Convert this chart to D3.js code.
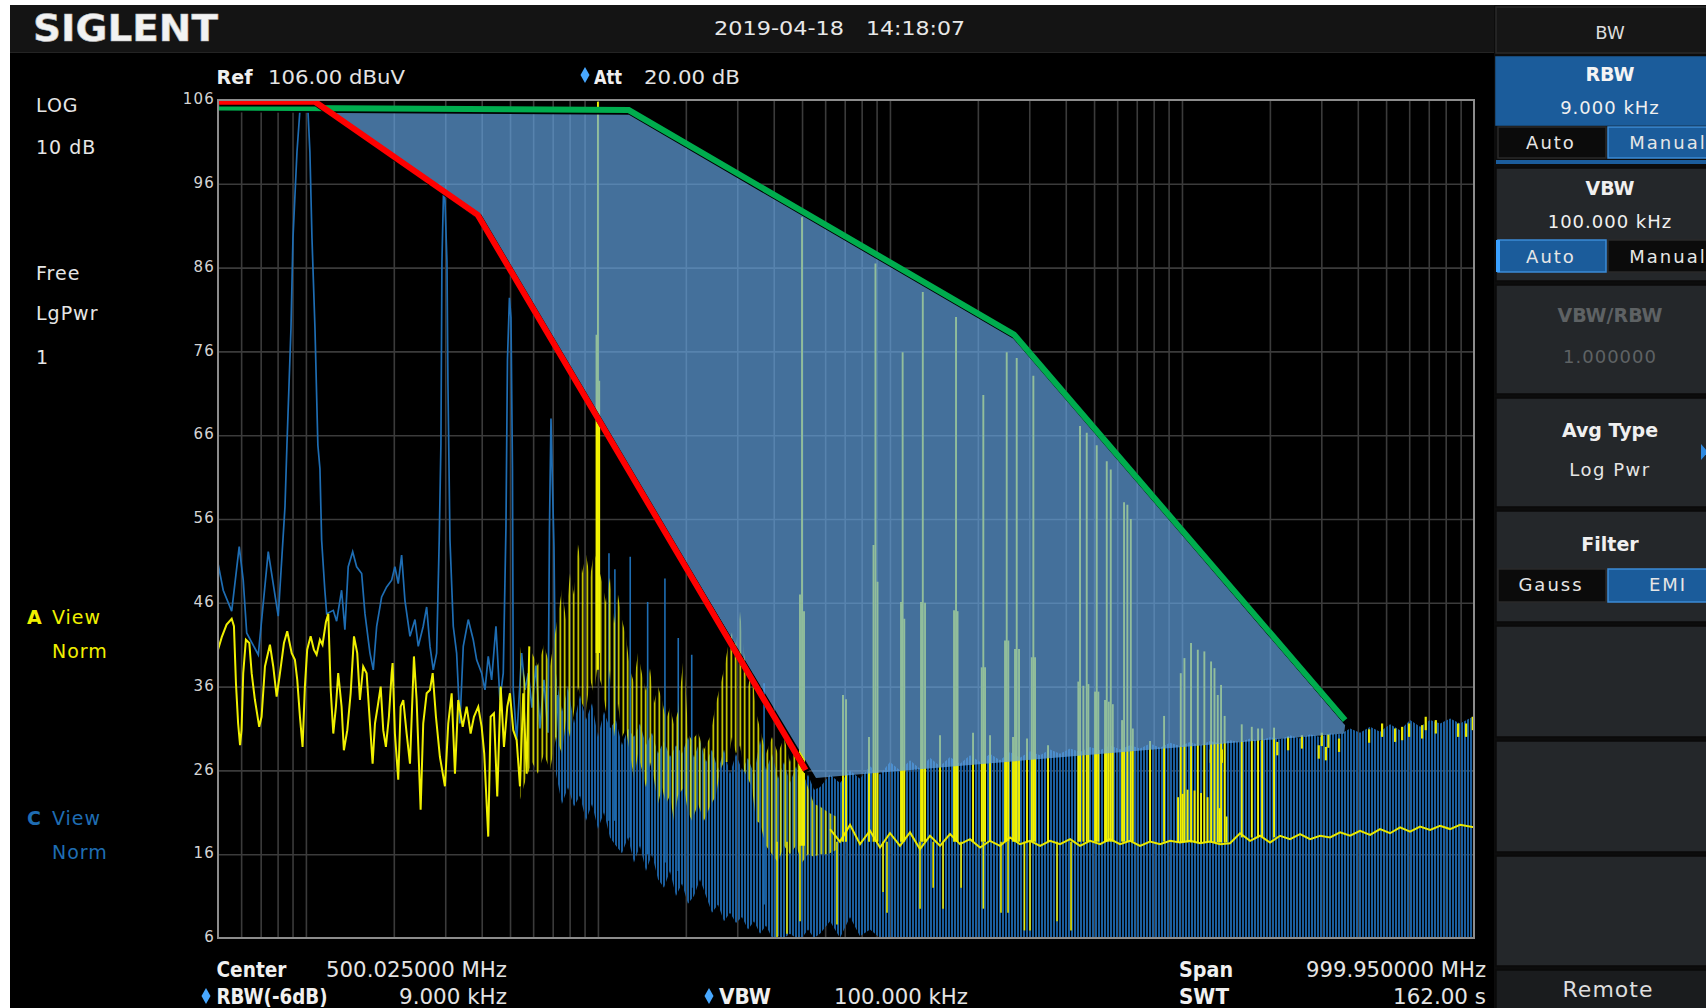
<!DOCTYPE html>
<html>
<head>
<meta charset="utf-8">
<script src="https://cdn.jsdelivr.net/npm/d3@7"></script>
<style>
html,body{margin:0;padding:0;background:#fff;overflow:hidden;}
svg{display:block;}
text{font-family:"DejaVu Sans",Verdana,sans-serif;}
</style>
</head>
<body>
<svg id="scr" width="1706" height="1008"></svg>
<script>
// ---------------- Sweep settings ----------------
const freqStartMHz = 0.05;
const freqStopMHz = 1000;
const refLevel = 106;      // dBuV, top of screen
const dbPerDiv = 10;
const yTickLabels = [106, 96, 86, 76, 66, 56, 46, 36, 26, 16, 6];

// ---------------- Trace C (blue), low band line: [MHz, dBuV] ----------------
const traceC = [
  [0.0500,50.7],[0.0521,47.5],[0.0557,45.0],[0.0591,52.7],[0.0610,48.7],[0.0627,42.4],
  [0.0687,39.8],[0.0743,52.1],[0.0804,44.4],[0.0848,57.5],[0.0861,64.8],[0.0889,78.8],
  [0.0903,89.5],[0.0932,99.8],[0.0954,104.8],[0.0985,105.2],[0.1016,104.8],[0.1032,99.8],
  [0.1049,89.5],[0.1074,78.8],[0.1099,64.8],[0.1117,62.0],[0.1132,53.5],[0.1161,47.5],
  [0.1178,44.7],[0.1241,45.1],[0.1274,43.8],[0.1325,47.5],[0.1360,42.8],[0.1396,50.3],
  [0.1446,52.1],[0.1492,50.3],[0.1552,49.5],[0.1593,44.7],[0.1657,40.0],[0.1701,38.0],
  [0.1747,43.2],[0.1817,46.7],[0.1890,47.9],[0.1966,48.7],[0.2017,50.3],[0.2071,48.3],
  [0.2127,51.7],[0.2183,46.3],[0.2272,42.0],[0.2363,44.0],[0.2425,40.8],[0.2522,43.2],
  [0.2591,45.5],[0.2660,40.8],[0.2730,38.0],[0.2803,40.0],[0.2861,53.5],[0.2900,65.0],
  [0.2923,86.7],[0.2958,94.7],[0.2993,94.0],[0.3041,86.7],[0.3065,72.0],[0.3114,53.5],
  [0.3196,43.2],[0.3282,40.0],[0.3369,31.6],[0.3458,40.8],[0.3597,44.0],[0.3741,41.6],
  [0.3843,39.2],[0.3998,37.6],[0.4104,35.6],[0.4211,39.6],[0.4325,36.8],[0.4475,43.2],
  [0.4618,34.4],[0.4740,37.6],[0.4842,55.0],[0.4900,75.0],[0.4977,82.4],[0.5037,80.0],
  [0.5097,62.0],[0.5129,35.6],[0.5269,29.6],[0.5481,40.0],[0.5626,35.6],[0.5774,37.6],
  [0.5945,33.5],[0.6135,38.5],[0.6331,31.0],[0.6534,36.8],[0.6744,30.5],[0.6825,55.0],
  [0.6906,68.0],[0.6988,60.0],[0.7071,52.7],[0.7183,30.0],[0.7297,35.0]
];

// Trace C, dense band above 0.7 MHz: [MHz, upper dBuV, lower dBuV]
const combC = [
  [0.7183,37.6,25.6],[0.7531,33.0,22.0],[0.7896,36.0,24.0],[0.8279,31.6,21.7],[0.8680,35.0,23.0],
  [0.9100,32.0,20.0],[0.9542,34.0,22.0],[1.0003,30.0,19.0],[1.0488,33.0,21.0],[1.0996,31.0,18.0],
  [1.1529,32.0,17.0],[1.2088,29.0,16.1],[1.2673,31.0,18.0],[1.3288,30.0,15.0],[1.3931,31.6,17.0],
  [1.4605,29.0,14.0],[1.5314,30.5,16.0],[1.6056,28.0,13.0],[1.6834,29.5,12.0],[1.7649,27.6,14.0],
  [1.8505,29.0,11.0],[1.9402,28.0,12.5],[2.0341,30.0,10.1],[2.1327,27.5,11.0],[2.2360,29.6,13.0],
  [2.3444,27.0,11.0],[2.4580,28.5,9.0],[2.5771,26.0,10.0],[2.7021,28.5,8.0],[2.8329,25.6,9.0],
  [2.9702,28.0,7.8],[3.1143,26.0,8.5],[3.2650,27.5,7.0],[3.4233,25.5,8.0],[3.5892,29.6,6.5],
  [3.7630,26.0,7.5],[3.9455,28.0,6.0],[4.1365,25.0,6.2],[4.3371,27.0,6.0],[4.5472,24.5,6.5],
  [4.7675,26.5,6.0],[4.9986,24.0,6.0],[5.2406,25.5,7.0],[5.4948,23.7,6.0],[5.7608,24.0,6.5],
  [6.234,25.5,8.0],[6.745,24.5,6.0],[7.298,26.0,8.5],[7.897,25.0,6.2],[8.545,26.5,7.0],
  [9.246,25.5,6],[10.005,27.0,6],[10.826,26.0,6],[11.714,27.2,6],[12.675,26.2,6],
  [13.715,27.5,6],[14.840,26.5,6],[16.058,27.6,6],[17.375,26.8,6],[18.801,27.8,6],
  [20.344,27.0,6],[22.013,28.0,6],[23.819,27.2,6],[25.773,28.2,6],[27.888,27.5,6],
  [30.176,28.3,6],[32.652,27.8,6],[35.331,28.5,6],[38.230,28.0,6],[41.367,28.6,6],
  [44.762,28.2,6],[48.434,28.8,6],[52.408,28.4,6],[56.708,29.0,6],[61.361,28.5,6],
  [66.396,29.0,6],[71.844,28.6,6],[77.739,29.2,6],[84.117,28.7,6],[91.019,29.3,6],
  [98.487,28.9,6],[106.57,29.4,6],[115.31,29.0,6],[124.77,29.5,6],[135.01,29.2,6],
  [146.09,29.6,6],[158.08,29.4,6],[171.05,29.8,6],[185.08,29.5,6],[200.27,30.0,6],
  [216.70,29.7,6],[234.48,30.2,6],[253.72,29.8,6],[274.54,30.3,6],[297.06,30.0,6],
  [321.44,30.4,6],[347.81,30.3,6],[376.35,31.0,6],[407.23,30.5,6],[440.64,31.2,6],
  [476.80,30.6,6],[515.92,31.5,6],[558.25,30.8,6],[604.05,32.0,6],[653.62,31.2,6],
  [707.25,32.0,6],[765.28,31.6,6],[828.07,32.2,6],[896.01,31.6,6],[1000,32.5,6]
];

// Trace C isolated lines in the 1–4 MHz region: [MHz, peak dBuV, foot dBuV]
const spikesC = [
  [1.091,51.9,20],[1.143,50.0,20],[1.290,51.5,18],[1.480,46.1,16],[1.696,48.9,15],
  [1.884,41.8,14],[2.095,39.8,12],[3.706,36.4,10]
];

// ---------------- Trace A (yellow), low band line: [MHz, dBuV] ----------------
const traceA = [
  [0.0500,40.4],[0.0515,41.9],[0.0535,43.4],[0.0557,44.1],[0.0567,43.2],[0.0576,36.4],
  [0.0586,31.6],[0.0595,29.0],[0.0602,30.8],[0.0610,37.6],[0.0623,41.6],[0.0640,41.2],
  [0.0652,37.6],[0.0669,34.4],[0.0692,31.2],[0.0705,32.4],[0.0724,38.4],[0.0753,41.0],
  [0.0773,38.4],[0.0794,34.8],[0.0815,37.6],[0.0841,41.2],[0.0863,42.6],[0.0894,40.0],
  [0.0917,39.2],[0.0934,36.8],[0.0954,32.4],[0.0974,28.8],[0.0992,36.0],[0.1010,40.4],
  [0.1038,42.0],[0.1065,40.4],[0.1088,39.8],[0.1117,41.6],[0.1140,41.0],[0.1171,43.7],
  [0.1193,44.7],[0.1216,35.6],[0.1241,30.4],[0.1267,33.6],[0.1290,37.6],[0.1325,33.6],
  [0.1349,28.4],[0.1386,30.8],[0.1423,35.2],[0.1461,42.0],[0.1499,40.0],[0.1531,34.4],
  [0.1571,38.4],[0.1614,37.6],[0.1657,31.6],[0.1692,26.8],[0.1724,31.6],[0.1761,33.6],
  [0.1803,36.0],[0.1840,30.8],[0.1879,28.8],[0.1924,32.4],[0.1966,37.6],[0.1981,38.8],
  [0.2017,30.4],[0.2071,24.9],[0.2111,33.6],[0.2155,34.4],[0.2213,30.4],[0.2272,26.8],
  [0.2344,39.6],[0.2394,34.4],[0.2471,21.3],[0.2522,31.6],[0.2591,35.2],[0.2660,35.6],
  [0.2717,37.6],[0.2788,32.4],[0.2877,27.6],[0.2993,24.1],[0.3072,31.6],[0.3156,35.2],
  [0.3239,25.6],[0.3324,34.4],[0.3443,31.2],[0.3552,33.6],[0.3665,30.4],[0.3762,32.4],
  [0.3892,33.6],[0.3998,31.2],[0.4080,28.0],[0.4211,18.1],[0.4291,32.4],[0.4405,32.8],
  [0.4521,22.9],[0.4645,36.0],[0.4767,28.8],[0.4894,33.6],[0.4997,35.2],[0.5129,30.8],
  [0.5269,29.6],[0.5408,24.1],[0.5550,35.2],[0.5701,25.6],[0.5820,40.8]
];

// Trace A, dense band 0.54–6.5 MHz: [MHz, upper dBuV, lower dBuV]
const noiseA = [
  [0.5408,40.8,22.5],[0.5669,36.0,25.0],[0.5945,40.0,27.0],[0.6232,38.5,25.6],[0.6534,41.0,28.0],
  [0.6851,38.4,26.0],[0.7183,43.0,30.0],[0.7531,47.6,28.0],[0.7772,44.0,32.0],[0.8021,49.5,30.0],
  [0.8279,47.0,33.0],[0.8544,53.0,36.0],[0.8818,49.5,34.0],[0.9100,51.8,33.0],[0.9392,49.0,37.0],
  [0.9693,52.0,35.0],[0.9924,51.0,38.0],[1.0324,48.5,36.0],[1.0654,46.0,33.0],[1.0996,49.0,38.0],
  [1.1349,43.5,30.0],[1.1712,47.0,34.0],[1.2088,44.0,30.0],[1.2474,42.0,31.0],[1.2874,38.0,28.0],
  [1.3288,36.5,25.0],[1.3713,40.0,28.0],[1.4153,37.5,26.0],[1.4605,35.5,24.0],[1.5074,38.2,27.0],
  [1.5558,34.0,25.0],[1.6056,36.0,22.0],[1.6572,34.4,24.0],[1.7101,32.0,22.0],[1.7649,33.5,23.0],
  [1.8216,31.5,20.0],[1.8799,33.0,23.0],[1.9711,40.0,24.0],[2.0341,30.4,21.0],[2.0994,29.6,20.0],
  [2.2010,30.5,22.0],[2.3078,28.5,20.0],[2.4196,30.0,21.7],[2.5367,34.0,23.0],[2.6181,36.0,26.0],
  [2.7021,38.0,27.0],[2.7886,40.8,27.0],[2.8781,42.5,30.0],[2.9702,41.0,28.0],[3.0655,45.0,29.0],
  [3.1638,40.0,26.0],[3.2650,36.0,25.0],[3.3699,38.0,24.0],[3.4776,33.0,20.0],[3.5892,31.0,19.7],
  [3.7630,28.0,17.0],[3.9455,30.0,16.0],[4.1365,28.0,15.0],[4.3371,30.0,17.0],[4.5472,27.0,16.0],
  [4.7675,29.0,17.0],[4.9986,26.0,15.0],[5.2406,24.0,16.0],[5.4948,22.0,15.7],[5.7608,21.7,16.0],
  [6.1360,21.0,16.0],[6.5352,20.5,16.5]
];

// Trace A noise floor above 6 MHz: [MHz, dBuV]
const baseA = [
  [6.234,19.0],[6.745,17.5],[7.298,19.5],[7.897,17.2],[8.545,18.8],[9.246,16.8],[10.005,18.5],
  [10.826,17.0],[11.714,18.6],[12.675,16.6],[13.715,18.2],[14.840,17.0],[16.058,18.4],[17.375,17.2],
  [18.801,17.8],[20.344,16.8],[22.013,17.6],[23.819,17.0],[25.773,18.0],[27.888,17.2],[30.176,17.6],
  [32.652,17.0],[35.331,17.6],[38.230,17.2],[41.367,17.8],[44.762,17.0],[48.434,17.6],[52.408,17.2],
  [56.708,17.8],[61.361,17.2],[66.396,17.6],[71.844,17.0],[77.739,17.5],[84.117,17.2],[91.019,17.6],
  [98.487,17.4],[106.57,17.6],[115.31,17.3],[124.77,17.5],[135.01,17.2],[146.09,17.3],[158.08,18.5],
  [171.05,17.6],[185.08,18.2],[200.27,17.4],[216.70,18.2],[234.48,17.8],[253.72,18.4],[274.54,17.8],
  [297.06,18.2],[321.44,18.0],[347.81,18.6],[376.35,18.2],[407.23,18.8],[440.64,18.3],[476.80,19.0],
  [515.92,18.5],[558.25,19.2],[604.05,18.7],[653.62,19.3],[707.25,18.9],[765.28,19.4],[828.07,19.0],
  [896.01,19.5],[1000,19.2]
];

// Trace A discrete emissions: [MHz, peak dBuV, foot dBuV]
const spikesA = [
  [0.989,78.0,40],[1.000,105.8,38],[1.010,72.5,40],
  [4.920,47.0,17],[4.999,92.0,17],[5.078,45.0,17],
  [6.906,35.0,17.5],[7.072,34.5,17.5],[8.478,30.0,17.5],
  [8.784,52.9,17.5],[8.920,86.5,17.5],[9.066,48.5,17.5],
  [10.913,46.1,17.5],[11.052,75.9,17.5],[11.197,44.1,17.5],
  [12.777,46.1,17.5],[12.955,83.1,17.5],[13.186,46.0,17.5],[14.840,30.2,17.5],
  [16.575,45.1,17.5],[16.837,80.1,17.5],[17.040,45.0,17.5],[19.254,30.5,17.5],
  [20.620,38.3,17.5],[20.880,70.8,17.5],[21.165,38.3,17.5],[22.013,30.2,17.5],
  [24.780,41.5,17.5],[25.110,75.9,17.5],[25.430,41.5,17.5],[26.390,30.0,17.5],
  [26.810,40.5,17.5],[27.170,75.2,17.5],[27.670,40.5,17.5],[29.470,29.8,17.5],
  [30.590,39.5,17.5],[30.980,73.1,17.5],[31.390,39.5,17.5],[34.780,29.0,17.5],
  [44.170,36.6,17.5],[44.760,67.1,17.5],[45.950,36.1,17.5],[47.190,66.3,17.5],[47.800,36.3,17.5],
  [50.390,35.4,17.5],[51.060,64.8,17.5],[51.720,35.4,17.5],
  [54.520,34.4,17.5],[55.260,62.9,17.5],[56.140,34.2,17.5],[57.030,61.9,17.5],[57.940,33.9,17.5],
  [62.350,32.0,17.5],[63.340,58.0,17.5],[65.010,57.7,17.5],[66.790,56.0,17.5],[67.860,31.0,17.5],
  [77.740,29.5,17.5],[86.840,32.5,17.5],
  [96.97,22.8,17.4],[99.05,37.6,17.4],[100.5,23.2,17.4],[101.95,39.4,17.4],[104.5,23.7,17.4],
  [107.4,41.2,17.4],[110.4,23.6,17.4],[113.3,40.4,17.4],[116.25,23.3,17.4],[119.3,40.2,17.4],
  [122.4,22.8,17.4],[125.8,39.0,17.4],[129.2,38.2,17.4],[132.6,35.0,17.4],[134.5,21.5,17.4],
  [136.1,36.2,17.4],[140.0,32.5,17.4],[142.1,20.5,17.4],
  [160.2,31.5,18],[173.4,31.2,18],[182.2,31.0,18],[188.1,31.0,18],[206.7,31.1,18]
];

// Trace A short excursions above the floor on the upper band: [MHz, dBuV]
const ticksA = [
  [125.5,28.5],[137.0,28.5],[212.0,29.4],[230.9,30.0],[257.4,30.2],[294.0,29.0],[301.2,30.5],
  [311.0,28.8],[317.2,30.3],[345.0,29.8],[437.3,30.9],[484.5,31.6],[536.8,31.0],[567.4,31.2],
  [599.5,31.6],[664.3,31.4],[683.4,32.4],[739.9,32.0],[882.3,31.6],[939.8,31.6],[990.5,32.4]
];

// Trace A drop-outs below the floor: [MHz, lowest dBuV]
const dipsA = [
  [4.104,5.8],[4.440,6.5],[4.920,8.0],[6.585,7.6],[9.47,11.5],[9.77,9.0],[12.675,9.5],
  [14.06,12.0],[15.20,9.5],[17.52,12.0],[20.88,9.5],[24.0,9.0],[25.37,9.0],[28.88,6.9],
  [30.18,6.9],[37.34,8.0],[41.69,6.9]
];

// ---------------- Limit lines and margin zone: [MHz, dBuV] ----------------
const limitRed = [[0.05,105.8],[0.1074,105.8],[0.3873,92.3],[5.142,26.05]];
const limitGreen = [[0.05,105.1],[1.275,104.8],[26.60,78.0],[361.9,32.0]];
const marginZone = [[0.1171,104.8],[1.275,104.5],[26.60,77.7],[362.0,31.4],[359.1,30.4],[5.582,25.1],[0.3945,91.6]];

// ---------------- Layout ----------------
const W = 1706, H = 1008;
const plot = {left: 218, right: 1474, top: 100, bottom: 938};

const x = d3.scaleLog().domain([freqStartMHz, freqStopMHz]).range([plot.left, plot.right]);
const y = d3.scaleLinear().domain([refLevel - 10 * dbPerDiv, refLevel]).range([plot.bottom, plot.top]);

const svg = d3.select('#scr');
const defs = svg.append('defs');

// screen
svg.append('rect').attr('width', W).attr('height', H).attr('fill', '#ffffff');
svg.append('rect').attr('x', 10).attr('y', 5).attr('width', W - 10).attr('height', H - 5).attr('fill', '#000');
svg.append('rect').attr('x', 10).attr('y', 5).attr('width', 1484).attr('height', 47).attr('fill', '#141414');
svg.append('line').attr('x1', 10).attr('x2', 1494).attr('y1', 52.5).attr('y2', 52.5).attr('stroke', '#242424');

function txt(s, tx, ty, o = {}) {
  const t = svg.append('text').attr('x', tx).attr('y', ty).text(s)
    .attr('font-size', o.size || 19)
    .attr('fill', o.fill || '#e4e4e4')
    .attr('text-anchor', o.anchor || 'start');
  if (o.bold) t.attr('font-weight', 'bold');
  if (o.family) t.attr('font-family', o.family);
  if (o.len) t.attr('textLength', o.len).attr('lengthAdjust', 'spacingAndGlyphs');
  if (o.ls) t.attr('letter-spacing', o.ls);
  return t;
}
const narrow = '"Liberation Sans Narrow","DejaVu Sans Condensed",Roboto,"Liberation Sans",sans-serif';

// header
txt('SIGLENT', 33, 41, {size: 38, bold: true, fill: '#f2f2f2', len: 185, family: '"DejaVu Sans",sans-serif'})
  .attr('stroke', '#bdbdbd').attr('stroke-width', 0.6);
txt('2019-04-18', 714, 35, {size: 20, len: 130, family: narrow, fill: '#e8e8e8'});
txt('14:18:07', 866, 35, {size: 20, len: 99, family: narrow, fill: '#e8e8e8'});

// reference / attenuation line
txt('Ref', 216.5, 84, {size: 20, bold: true, len: 36, family: narrow, fill: '#f0f0f0'});
txt('106.00 dBuV', 268, 84, {size: 20, len: 137, family: narrow});
function diamond(cx, cy) {
  svg.append('path').attr('d', `M${cx},${cy - 8}L${cx + 4.5},${cy}L${cx},${cy + 8}L${cx - 4.5},${cy}Z`)
    .attr('fill', '#48a8ff');
}
diamond(585, 75);
txt('Att', 594, 84, {size: 20, bold: true, len: 28, family: narrow, fill: '#f0f0f0'});
txt('20.00 dB', 644, 84, {size: 20, len: 96, family: narrow});

// left status column
const statusWhite = [['LOG', 112], ['10 dB', 154], ['Free', 280], ['LgPwr', 320], ['1', 364]];
statusWhite.forEach(([s, yy]) => txt(s, 36, yy, {size: 19, ls: 1, fill: '#e6e6e6'}));
txt('A', 27, 624, {size: 19, bold: true, fill: '#f0f000'});
txt('View', 52, 624, {size: 19, ls: 1, fill: '#f0f000'});
txt('Norm', 52, 658, {size: 19, ls: 1, fill: '#f0f000'});
txt('C', 27, 825, {size: 19, bold: true, fill: '#1f6db3'});
txt('View', 52, 825, {size: 19, ls: 1, fill: '#1f6db3'});
txt('Norm', 52, 859, {size: 19, ls: 1, fill: '#1f6db3'});

// ---------------- Plot ----------------
defs.append('clipPath').attr('id', 'plotClip').append('rect')
  .attr('x', plot.left).attr('y', plot.top).attr('width', plot.right - plot.left).attr('height', plot.bottom - plot.top);

const stripeC = defs.append('pattern').attr('id', 'stripeC').attr('patternUnits', 'userSpaceOnUse')
  .attr('width', 3).attr('height', 10);
stripeC.append('rect').attr('x', 0).attr('width', 2).attr('height', 10).attr('fill', '#1b5e9e');
const stripeA = defs.append('pattern').attr('id', 'stripeA').attr('patternUnits', 'userSpaceOnUse')
  .attr('width', 4.5).attr('height', 10);
stripeA.append('rect').attr('x', 1.5).attr('width', 1.5).attr('height', 10).attr('fill', '#eeee00');

const g = svg.append('g').attr('clip-path', 'url(#plotClip)');

// grid
const gridFreqs = [];
[0.01, 0.1, 1, 10, 100].forEach(dec => {
  for (let m = 1; m <= 9; m++) {
    const f = +(m * dec).toPrecision(3);
    if (f > freqStartMHz && f < freqStopMHz) gridFreqs.push(f);
  }
});
const vGrid = g.append('g').attr('transform', `translate(0,${plot.bottom})`)
  .call(d3.axisBottom(x).tickValues(gridFreqs).tickSize(-(plot.bottom - plot.top)).tickFormat(''));
const hGrid = g.append('g').attr('transform', `translate(${plot.left},0)`)
  .call(d3.axisLeft(y).tickValues(yTickLabels.slice(1, -1)).tickSize(-(plot.right - plot.left)).tickFormat(''));
[vGrid, hGrid].forEach(a => {
  a.select('.domain').remove();
  a.selectAll('line').attr('stroke', '#3b3b3b').attr('stroke-width', 1.6);
});

// trace C: dense band, line, spikes
const bandArea = d3.area().x(d => x(d[0])).y0(d => y(d[2])).y1(d => y(d[1]));
g.append('path').datum(combC).attr('d', bandArea).attr('fill', 'url(#stripeC)');
g.append('path').datum(traceC)
  .attr('d', d3.line().x(d => x(d[0])).y(d => y(d[1])))
  .attr('fill', 'none').attr('stroke', '#1e6db3').attr('stroke-width', 1.7);
g.selectAll('.spC').data(spikesC).join('line').attr('class', 'spC')
  .attr('x1', d => x(d[0])).attr('x2', d => x(d[0]))
  .attr('y1', d => y(d[2])).attr('y2', d => y(d[1]))
  .attr('stroke', '#1e6db3').attr('stroke-width', 1.6);

// trace A: dense band, line, floor, discrete lines
g.append('path').datum(noiseA).attr('d', bandArea).attr('fill', 'url(#stripeA)');
g.append('path').datum(traceA)
  .attr('d', d3.line().x(d => x(d[0])).y(d => y(d[1])))
  .attr('fill', 'none').attr('stroke', '#f0f000').attr('stroke-width', 2);
g.append('path').datum(baseA)
  .attr('d', d3.line().x(d => x(d[0])).y(d => y(d[1])))
  .attr('fill', 'none').attr('stroke', '#e8e800').attr('stroke-width', 2);
g.selectAll('.spA').data(spikesA).join('line').attr('class', 'spA')
  .attr('x1', d => x(d[0])).attr('x2', d => x(d[0]))
  .attr('y1', d => y(d[2])).attr('y2', d => y(d[1]))
  .attr('stroke', '#f2f200').attr('stroke-width', 1.9);
g.selectAll('.dpA').data(dipsA).join('line').attr('class', 'dpA')
  .attr('x1', d => x(d[0])).attr('x2', d => x(d[0]))
  .attr('y1', d => y(17.5)).attr('y2', d => y(d[1]))
  .attr('stroke', '#e8e800').attr('stroke-width', 1.6);
g.selectAll('.tkA').data(ticksA).join('line').attr('class', 'tkA')
  .attr('x1', d => x(d[0])).attr('x2', d => x(d[0]))
  .attr('y1', d => y(d[1] - 1.6)).attr('y2', d => y(d[1]))
  .attr('stroke', '#e8e800').attr('stroke-width', 2.2);

// margin zone between the two limit lines
g.append('path').datum(marginZone)
  .attr('d', d3.line().x(d => x(d[0])).y(d => y(d[1])).curve(d3.curveLinearClosed))
  .attr('fill', 'rgb(100,165,229)').attr('fill-opacity', 0.68);

// limit lines with their dark edge
const limLine = d3.line().x(d => x(d[0])).y(d => y(d[1]));
[[limitGreen, '#00ad4e'], [limitRed, '#ff0000']].forEach(([pts, col]) => {
  g.append('path').datum(pts).attr('d', limLine).attr('transform', 'translate(1.3,1.8)')
    .attr('fill', 'none').attr('stroke', '#000').attr('stroke-width', 6);
  g.append('path').datum(pts).attr('d', limLine)
    .attr('fill', 'none').attr('stroke', col).attr('stroke-width', 6).attr('stroke-linejoin', 'miter');
});

// frame
svg.append('rect').attr('x', plot.left).attr('y', plot.top)
  .attr('width', plot.right - plot.left).attr('height', plot.bottom - plot.top)
  .attr('fill', 'none').attr('stroke', '#8c8c8c').attr('stroke-width', 2);

// amplitude labels
const yAx = svg.append('g').attr('transform', `translate(${plot.left - 3},0)`)
  .call(d3.axisLeft(y).tickValues(yTickLabels).tickSize(0).tickPadding(0).tickFormat(d3.format('d')));
yAx.select('.domain').remove();
yAx.selectAll('text').attr('font-size', 15).attr('fill', '#d4d4d4').attr('letter-spacing', 1.2)
  .attr('font-family', '"DejaVu Sans",Verdana,sans-serif').attr('dy', '0.25em');

// bottom annotation
txt('Center', 216.5, 977, {size: 21, bold: true, len: 70, family: narrow, fill: '#f0f0f0'});
txt('500.025000 MHz', 326, 977, {size: 21, len: 181, family: narrow});
txt('Span', 1179, 977, {size: 21, bold: true, len: 54, family: narrow, fill: '#f0f0f0'});
txt('999.950000 MHz', 1486, 977, {size: 21, len: 180, family: narrow, anchor: 'end'});
diamond(206, 996);
txt('RBW(-6dB)', 216.5, 1004, {size: 21, bold: true, len: 111, family: narrow, fill: '#f0f0f0'});
txt('9.000 kHz', 399, 1004, {size: 21, len: 108, family: narrow});
diamond(709, 996);
txt('VBW', 719, 1004, {size: 21, bold: true, len: 52, family: narrow, fill: '#f0f0f0'});
txt('100.000 kHz', 834, 1004, {size: 21, len: 134, family: narrow});
txt('SWT', 1179, 1004, {size: 21, bold: true, len: 50, family: narrow, fill: '#f0f0f0'});
txt('162.00 s', 1486, 1004, {size: 21, len: 93, family: narrow, anchor: 'end'});

// ---------------- Soft-key menu ----------------
const mx = 1496, mcx = 1610;
function box(x0, y0, w, h, fill, stroke) {
  svg.append('rect').attr('x', x0).attr('y', y0).attr('width', w).attr('height', h)
    .attr('fill', fill).attr('stroke', stroke || '#0a0a0a').attr('stroke-width', 1.5);
}
svg.append('rect').attr('x', mx - 2).attr('y', 5).attr('width', W - mx + 2).attr('height', H - 5).attr('fill', '#0c0c0c');
box(mx, 7, 230, 46, '#161616', '#2a2a2a');
txt('BW', mcx, 39, {size: 18, anchor: 'middle', fill: '#dcdcdc'});

box(mx, 57, 230, 68, '#1b5c9b', '#1b5c9b');
txt('RBW', mcx, 81, {size: 19, bold: true, anchor: 'middle', fill: '#f4f4f4'});
txt('9.000 kHz', mcx, 114, {size: 18, anchor: 'middle', ls: 1, fill: '#f0f0f0'});
box(mx + 2, 127, 108, 31, '#0b0b0b', '#2a2a2a');
box(mx + 112, 127, 118, 31, '#1b5c9b', '#3b8bd6');
txt('Auto', 1551, 149, {size: 18, anchor: 'middle', ls: 2, fill: '#e6e6e6'});
txt('Manual', 1668, 149, {size: 18, anchor: 'middle', ls: 2, fill: '#e6e6e6'});
svg.append('rect').attr('x', mx).attr('y', 160).attr('width', 230).attr('height', 4).attr('fill', '#1b5c9b');

box(mx, 168, 230, 113, '#24272a');
txt('VBW', mcx, 195, {size: 19, bold: true, anchor: 'middle', fill: '#f0f0f0'});
txt('100.000 kHz', mcx, 228, {size: 18, anchor: 'middle', ls: 1, fill: '#f0f0f0'});
box(mx + 2, 240, 108, 32, '#1b5c9b', '#3b8bd6');
svg.append('rect').attr('x', mx).attr('y', 240).attr('width', 4).attr('height', 32).attr('fill', '#3aa0ff');
box(mx + 112, 240, 118, 32, '#0b0b0b', '#2a2a2a');
txt('Auto', 1551, 263, {size: 18, anchor: 'middle', ls: 2, fill: '#e6e6e6'});
txt('Manual', 1668, 263, {size: 18, anchor: 'middle', ls: 2, fill: '#e6e6e6'});

box(mx, 285, 230, 109, '#24272a');
txt('VBW/RBW', mcx, 322, {size: 19, bold: true, anchor: 'middle', fill: '#5e6264'});
txt('1.000000', mcx, 363, {size: 18, anchor: 'middle', ls: 1, fill: '#5e6264'});

box(mx, 398, 230, 109, '#24272a');
txt('Avg Type', mcx, 437, {size: 19, bold: true, anchor: 'middle', fill: '#f0f0f0'});
txt('Log Pwr', mcx, 476, {size: 18, anchor: 'middle', ls: 1.5, fill: '#e6e6e6'});
svg.append('path').attr('d', 'M1701,444L1708,452L1701,460Z').attr('fill', '#2f8ae0');

box(mx, 511, 230, 111, '#24272a');
txt('Filter', mcx, 551, {size: 19, bold: true, anchor: 'middle', fill: '#f0f0f0'});
box(mx + 2, 569, 108, 33, '#0b0b0b', '#2a2a2a');
box(mx + 112, 569, 118, 33, '#1b5c9b', '#3b8bd6');
txt('Gauss', 1551, 591, {size: 18, anchor: 'middle', ls: 2, fill: '#e6e6e6'});
txt('EMI', 1668, 591, {size: 18, anchor: 'middle', ls: 2, fill: '#e6e6e6'});

box(mx, 626, 230, 111, '#24272a');
box(mx, 741, 230, 111, '#24272a');
box(mx, 856, 230, 110, '#24272a');
box(mx, 970, 230, 40, '#1a1c1e');
txt('Remote', mcx - 2, 997, {size: 22, anchor: 'middle', ls: 1, fill: '#dedede'});
</script>
</body>
</html>
